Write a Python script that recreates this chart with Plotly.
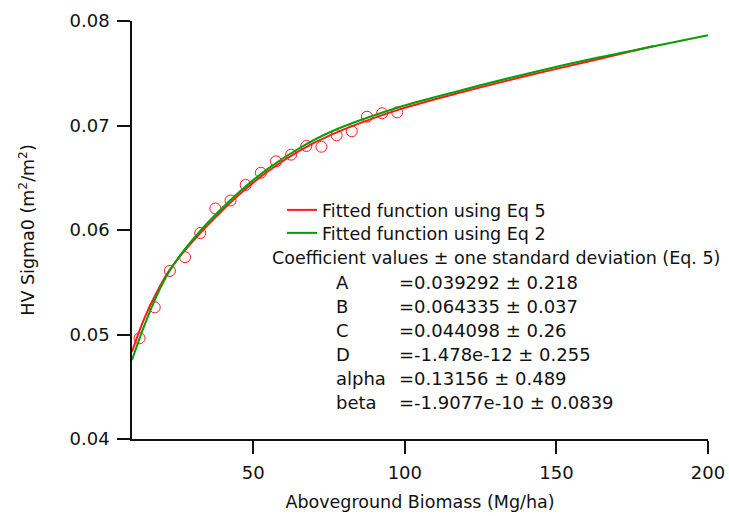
import plotly.graph_objects as go

# ---- data ----
biomass_obs = [12.5, 17.5, 22.5, 27.5, 32.5, 37.5, 42.5, 47.5, 52.5, 57.5,
               62.5, 67.5, 72.5, 77.5, 82.5, 87.5, 92.5, 97.5]
sigma0_obs = [0.04964, 0.05260, 0.05608, 0.05740, 0.05971, 0.06206, 0.06282,
              0.06431, 0.06548, 0.06657, 0.06721, 0.06804, 0.06797, 0.06906,
              0.06945, 0.07084, 0.07117, 0.07126]

eq5_x = [10, 14, 18, 22, 27, 32, 38, 45, 55, 65, 76, 97, 119, 141, 163, 182]
eq5_y = [0.04835, 0.05150, 0.05395, 0.05600, 0.05790, 0.05955, 0.06135, 0.06330,
         0.06565, 0.06755, 0.06915, 0.07142, 0.07320, 0.07480, 0.07630, 0.07760]

eq2_x = [10, 14, 18, 22, 27, 32, 38, 45, 55, 65, 76, 97, 119, 141, 163, 185, 200]
eq2_y = [0.04756, 0.05080, 0.05360, 0.05590, 0.05800, 0.05975, 0.06160, 0.06355,
         0.06590, 0.06780, 0.06945, 0.07165, 0.07340, 0.07500, 0.07645, 0.07775,
         0.07865]

series_names = ["Fitted function using Eq 5", "Fitted function using Eq 2"]
coef_header = "Coefficient values \u00b1 one standard deviation (Eq. 5)"
coef_names = ["A", "B", "C", "D", "alpha", "beta"]
coef_values = ["0.039292", "0.064335", "0.044098", "-1.478e-12", "0.13156", "-1.9077e-10"]
coef_sd = ["0.218", "0.037", "0.26", "0.255", "0.489", "0.0839"]

x_ticks = [50, 100, 150, 200]
y_ticks = [0.04, 0.05, 0.06, 0.07, 0.08]

# ---- layout helpers (pixel -> paper) ----
W, H = 729, 516
L, R, T, B = 132, 21, 21, 77
PW, PH = W - L - R, H - T - B


def px(x):
    return (x - L) / PW


def py(y):
    return (H - B - y) / PH


FONT = "DejaVu Sans"
INK = "#111111"
RED = "#ff1a1a"
GREEN = "#00a000"

fig = go.Figure()
fig.add_trace(go.Scatter(x=biomass_obs, y=sigma0_obs, mode="markers",
                         marker=dict(symbol="circle-open", size=11, color=RED,
                                     line=dict(width=1, color=RED)),
                         showlegend=False))
fig.add_trace(go.Scatter(x=eq5_x, y=eq5_y, mode="lines", name=series_names[0],
                         legend="legend",
                         line=dict(color=RED, width=2, shape="spline")))
fig.add_trace(go.Scatter(x=eq2_x, y=eq2_y, mode="lines", name=series_names[1],
                         legend="legend2",
                         line=dict(color=GREEN, width=2, shape="spline")))

annotations = [dict(x=px(270), y=py(258), xref="paper", yref="paper",
                    text=coef_header, showarrow=False, xanchor="left",
                    yanchor="middle", font=dict(size=17.5, family=FONT, color=INK))]
for i, (n, v, s) in enumerate(zip(coef_names, coef_values, coef_sd)):
    yy = 282 + i * 24
    annotations.append(dict(x=px(334), y=py(yy), xref="paper", yref="paper",
                            text=n, showarrow=False, xanchor="left", yanchor="middle",
                            font=dict(size=18, family=FONT, color=INK)))
    annotations.append(dict(x=px(397), y=py(yy), xref="paper", yref="paper",
                            text="=" + v + " \u00b1 " + s, showarrow=False,
                            xanchor="left", yanchor="middle",
                            font=dict(size=18, family=FONT, color=INK)))

axis_common = dict(showline=True, linecolor=INK, linewidth=1.5, ticks="outside",
                   ticklen=13, tickwidth=1.5, tickcolor=INK, showgrid=False,
                   zeroline=False, automargin=False,
                   tickfont=dict(size=18, family=FONT, color=INK))

legend_common = dict(xanchor="left", yanchor="middle", bgcolor="rgba(0,0,0,0)",
                     font=dict(size=17.5, family=FONT, color=INK))

fig.update_layout(
    width=W, height=H, margin=dict(l=L, r=R, t=T, b=B, autoexpand=False),
    paper_bgcolor="white", plot_bgcolor="white",
    font=dict(family=FONT, size=17, color=INK),
    xaxis=dict(range=[10, 200], tickvals=x_ticks, ticklabelstandoff=4,
               title=dict(text="Aboveground Biomass (Mg/ha)",
                          font=dict(size=17.5, family=FONT), standoff=13),
               **axis_common),
    yaxis=dict(range=[0.04, 0.08], tickvals=y_ticks, tickformat=".2f",
               ticklabelstandoff=4,
               title=dict(text="HV Sigma0 (m<sup>2</sup>/m<sup>2</sup>)",
                          font=dict(size=17.5, family=FONT), standoff=30),
               **axis_common),
    legend=dict(x=px(282), y=py(210), **legend_common),
    legend2=dict(x=px(282), y=py(233), **legend_common),
    annotations=annotations,
)

fig.write_html("out.html")
